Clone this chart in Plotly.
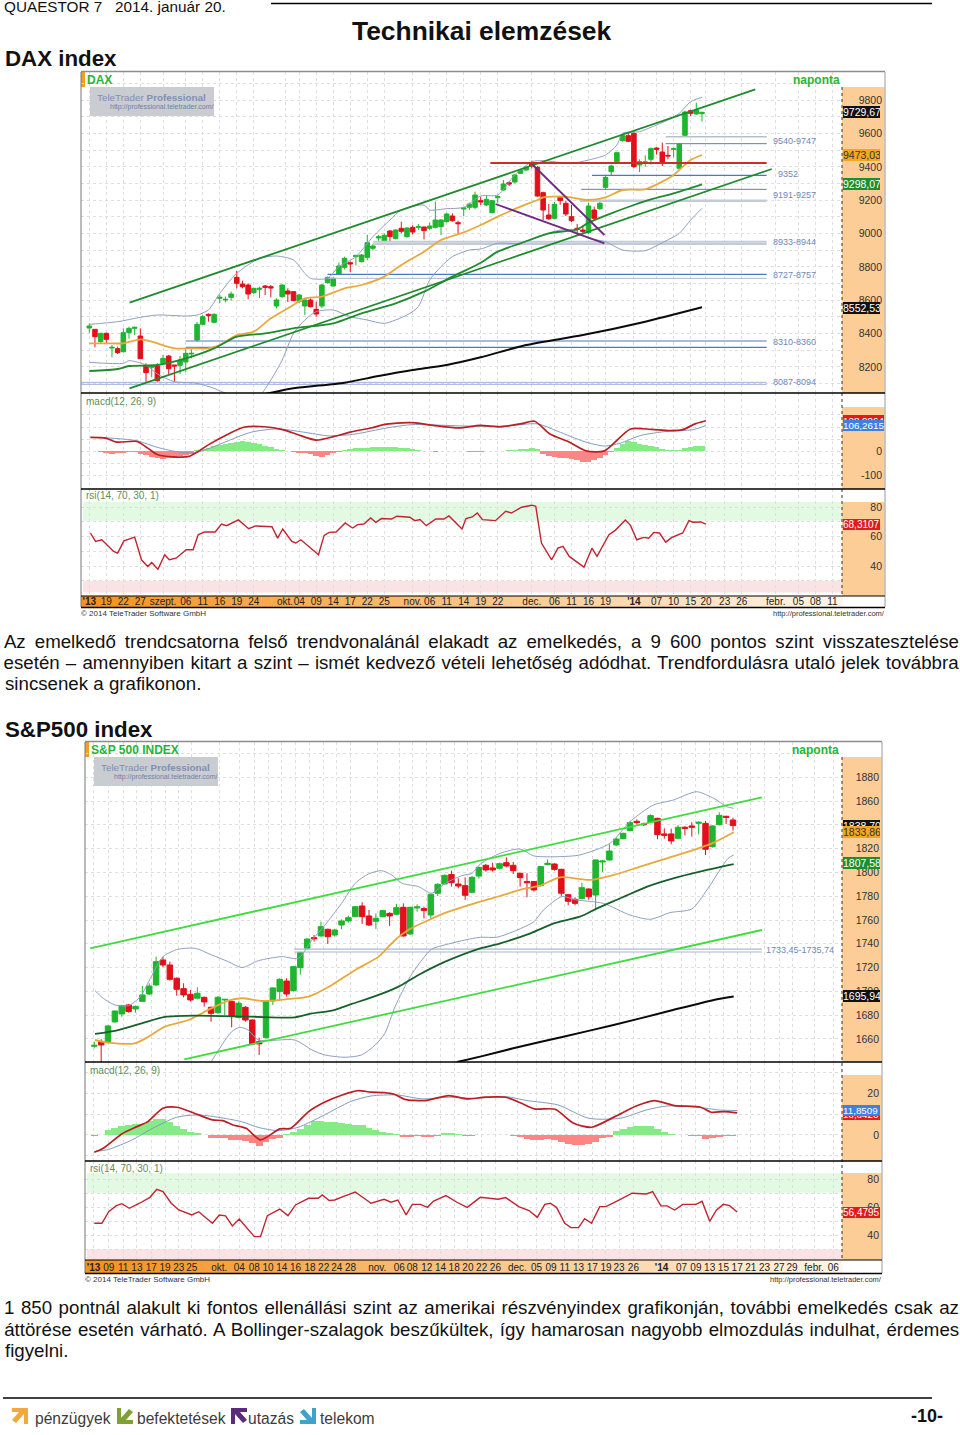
import json
import plotly.graph_objects as go

W, H = 960, 1435

# ---------- DAX data ----------
DAX_OPEN = [8433,8425,8351,8401,8313,8309,8291,8405,8431,8385,8205,8197,8205,8221,8265,8211,8209,8229,8277,8361,8455,8515,8467,8611,8601,8617,8737,8697,8691,8645,8665,8685,8681,8565,8621,8655,8651,8593,8565,8601,8545,8565,8705,8685,8757,8797,8825,8861,8831,8857,8911,8973,8953,9015,8969,9031,8981,9037,9037,9039,9031,9037,9041,9071,9105,9065,9147,9157,9157,9197,9171,9125,9215,9261,9305,9309,9361,9381,9421,9397,9245,9111,9091,9217,9181,9101,9031,9021,9005,9141,9149,9277,9371,9431,9557,9587,9601,9411,9425,9445,9513,9489,9469,9505,9391,9589,9737,9717,9719]
DAX_HIGH = [8461,8425,8405,8405,8331,8321,8431,8441,8441,8431,8221,8211,8221,8271,8271,8211,8265,8305,8305,8469,8511,8521,8521,8631,8621,8651,8775,8717,8701,8675,8681,8691,8691,8611,8695,8671,8655,8637,8611,8611,8591,8697,8741,8737,8825,8861,8833,8871,8877,8991,8937,8991,9001,9021,9025,9071,9037,9049,9057,9041,9065,9191,9085,9125,9121,9077,9157,9185,9251,9221,9231,9201,9229,9321,9313,9357,9389,9405,9437,9405,9251,9177,9189,9225,9197,9171,9057,9049,9185,9161,9191,9345,9413,9491,9593,9601,9613,9445,9469,9517,9517,9545,9525,9517,9541,9737,9743,9785,9731]
DAX_LOW = [8405,8317,8345,8337,8257,8277,8285,8369,8391,8249,8105,8137,8111,8217,8157,8105,8157,8171,8251,8351,8451,8471,8461,8581,8587,8597,8671,8671,8605,8637,8613,8631,8617,8551,8615,8589,8597,8581,8511,8557,8501,8551,8701,8681,8753,8785,8769,8809,8827,8841,8897,8949,8947,8949,8965,9001,8975,8995,9021,8965,9021,9031,8991,9065,9071,8991,9105,9141,9145,9171,9165,9121,9181,9257,9285,9301,9357,9377,9391,9221,9081,9081,9085,9173,9105,9069,8985,8997,8997,9081,9141,9261,9349,9425,9551,9549,9393,9369,9401,9413,9473,9405,9445,9457,9385,9581,9705,9713,9671]
DAX_CLOSE = [8445,8381,8401,8365,8317,8285,8405,8431,8437,8249,8165,8205,8117,8251,8189,8205,8241,8281,8281,8455,8501,8507,8515,8617,8605,8637,8701,8681,8637,8671,8671,8677,8673,8601,8691,8637,8597,8631,8601,8561,8517,8691,8737,8731,8805,8851,8817,8869,8871,8945,8925,8981,8989,8981,9021,9013,9033,9009,9041,9017,9045,9081,9081,9117,9077,9059,9153,9177,9231,9189,9205,9197,9221,9297,9297,9351,9381,9397,9405,9225,9141,9089,9175,9197,9117,9077,9025,9013,9165,9091,9181,9337,9405,9485,9587,9553,9401,9431,9429,9509,9505,9421,9465,9509,9537,9729,9721,9741,9727]

DAX_UP_X = [0,5,9,12,17,19,21,23,26,30,33,36,38,39,42,44,47,50,53,55,59,60,63,66,69,72,75,78,80,85,88,91,93,94,97,99,102,104,106,108]
DAX_UP_Y = [8455,8471,8497,8511,8505,8511,8541,8641,8761,8851,8865,8841,8761,8731,8731,8801,8861,8981,9081,9141,9171,9141,9149,9157,9225,9231,9351,9431,9437,9421,9441,9471,9531,9601,9611,9637,9681,9721,9791,9817]
DAX_LO_X = [0,6,7,10,12,15,19,22,25,30,32,34,36,38,40,43,46,49,52,56,58,60,62,64,67,69,72,76,80,83,85,88,91,94,98,101,104,106,108]
DAX_LO_Y = [8227,8221,8237,8211,8157,8111,8101,8071,8031,8031,8121,8241,8401,8481,8531,8541,8501,8481,8461,8511,8561,8721,8801,8861,8901,8907,8941,8941,8991,9021,9021,8971,8951,8901,8897,8945,9001,9081,9151]
DAX_MA20_X = [0,3,6,9,11,15,18,21,23,26,29,32,35,38,41,45,48,52,55,59,62,66,69,72,76,79,80,84,88,91,94,98,101,103,106,108]
DAX_MA20_Y = [8341,8341,8341,8365,8351,8311,8311,8311,8331,8391,8411,8491,8551,8611,8621,8671,8691,8741,8811,8891,8961,9007,9051,9101,9161,9201,9217,9221,9201,9217,9261,9265,9311,9351,9441,9471]
DAX_MA50_X = [0,5,7,12,17,22,26,31,36,43,48,54,59,64,69,72,76,81,86,88,92,96,99,103,108]
DAX_MA50_Y = [8175,8187,8205,8211,8251,8311,8381,8401,8431,8461,8521,8581,8651,8741,8825,8891,8941,9001,9025,9065,9121,9171,9205,9241,9295]
DAX_MA200_X = [31,36,45,51,57,63,69,77,87,98,108]
DAX_MA200_Y = [8037,8071,8105,8145,8181,8211,8257,8331,8391,8471,8557]

DAX_TREND = [([7.1,117.4],[8585,9865],'#1f8a2e'), ([7.1,120.3],[8071,9387],'#1f8a2e'),
             ([70.7,119.4],[9423,9423],'#c8302c'), ([71.6,90.8],[9177,8941],'#6e2a80'),
             ([78.2,90.8],[9411,8991],'#6e2a80')]
DAX_LEVELS = [(-1.4,8107,'#9db2d8',1),(-1.4,8095,'#9db2d8',1),(17,8355,'#4a78c8',1.2),(17,8317,'#4a78c8',1.2),
              (42,8755,'#4a78c8',1.2),(42,8731,'#a9b6cc',1),(50,8951,'#c3cbd8',2),(50,8937,'#c3cbd8',2),
              (86.7,9265,'#5a7fb8',1),(86.5,9197,'#c3cbd8',2.5),(88.6,9349,'#4a78c8',1.2),(101.6,9581,'#b4bfce',1.5),(101.6,9539,'#5a7fb8',1)]
DAX_LEVEL_END = 119.4
DAX_LEVEL_TEXT = [('9540-9747',773,141),('9352',778,174),('9191-9257',773,195),('8933-8944',773,242),('8727-8757',773,275),('8310-8360',773,342),('8087-8094',773,382)]

DAX_MACD_X = [0.2,2.9,4.8,8.4,10.3,12.1,14.8,17.6,19,21.2,24,27.2,30.9,34.1,36.8,40,43.2,46,49.6,52.4,57,60.6,65.2,68.9,72.5,76.2,78.5,81.2,84.4,87.6,90.8,95.4,99.1,102.3,104.6,106.9,108.7]
DAX_MACD_Y = [57,54,37.5,40,12.5,-15,-24,-22,-4,29,65,99,101,89,68,46,61,79,96,112,118,107,96,107,101,114,124,71,40,1,1,92,90,85,89,114,126]
DAX_SIG_X = [0.2,3.8,8.4,12.1,15.8,18.5,21.2,24.9,28.6,33.2,37.7,42.3,46.9,52.4,57,62.5,68,73.4,79,82.6,87.2,90.8,93.6,97.2,101.8,106.4,108.7]
DAX_SIG_Y = [57,54,43,15,-4,-8,12,47,79,92,79,63,71,96,110,107,103,104,113,82,40,21,33,65,82,89,106]
DAX_HIST = [0,0,-4,-8,-10,-8,-6,-3,-3,-12,-18,-24,-30,-33,-29,-27,-22,-17,-10,3,8,14,20,25,30,35,38,40,38,33,28,22,17,10,5,0,-3,-6,-9,-13,-20,-24,-15,-7,-2,3,10,12,13,14,16,18,19,18,17,14,11,8,5,2,-1,-2,-1,-1,1,1,-1,-3,-4,-3,-1,0,0,2,3,5,8,10,11,10,-10,-20,-25,-28,-30,-33,-38,-44,-47,-38,-28,-18,-5,12,30,40,36,30,26,22,16,10,6,3,4,14,18,20,20]
DAX_RSI_X = [.2,1.1,2.2,4.3,5,6.1,8,9.2,10.3,11,12.1,13.3,14.1,15.3,17.1,18.3,19.2,20.3,22.2,23.3,24.2,26.3,28.1,29.3,32.2,33.2,34.1,35.7,36.4,37.3,40.4,41.4,42.3,43.5,45.1,46.4,47.3,48.4,49.6,50.5,51.5,53.3,54.2,56.5,57.4,58.3,59.4,61.1,62.5,63.4,65.7,66.4,67.5,68.4,69.3,71.6,73.4,74.4,76.2,78,78.7,79.7,81.5,82.6,83.5,84.6,87.2,88.6,89.5,91.6,92.7,94.5,95.4,96.5,97.7,98.6,99.5,100.5,101.6,102.7,104.6,105.7,106.4,107.8,108.7]
DAX_RSI_Y = [62.5,56.8,57.9,50,48.8,57.2,59.7,44.3,39.7,42.5,37.9,47.7,44.3,45.4,51.1,51.1,61.3,63.2,63.2,68.6,67.5,71.4,65.4,67.3,66.8,59,65.2,56.8,55.7,57.9,47.7,60.9,62.9,63.2,69.3,65.9,68.2,68.6,72.7,69.8,72.3,72,73.9,73.2,70.9,71.6,67.5,72,72,74.1,65.2,72.3,73.4,76.1,71.6,70.9,77.3,76.1,80,81.4,80.7,55.7,44.3,52.2,53.4,46.6,39.3,52.2,46.6,61.3,64.3,71.4,67.7,57.9,59.5,59,62.9,62.5,56.3,59.5,62.5,70.9,69.8,70,68.6]
DAX_TICKPOS = [0,3,6,9,13,17,20,23,26,29,34.5,37,40,43,46,49,52,57,60,63,66,69,72,78,82,85,88,91,96,100,103,106,108.7,112,115,121,125,128,131]
DAX_TICKTXT = ["<b>'13</b>",'19','22','27','szept.','06','11','16','19','24','okt.','04','09','14','17','22','25','nov.','06','11','14','19','22','dec.','06','11','16','19',"<b>'14</b>",'07','10','15','20','23','26','febr.','05','08','11']
DAX_PRICE_TICKS = [8200,8400,8600,8800,9000,9200,9400,9600,9800]
DAX_MACD_TICKS = [-100,0,100]
DAX_BOX_MAIN = [('9729,67',9729.67,'#111111','#ffffff'),('9473,03',9473.03,'#f5a623','#333333'),('9298,07',9298.07,'#1a8f2f','#ffffff'),('8552,53',8552.53,'#111111','#ffffff')]
DAX_BOX_MACD = [('128,0064',126,'#dd1c1c','#ffffff'),('106,2615',106.26,'#3f7fe0','#ffffff')]
DAX_BOX_RSI = [('68,3107',68.31,'#dd1c1c','#ffffff')]

# ---------- S&P data ----------
SP_OPEN = [1653.8,1657.7,1657.7,1674.3,1681,1688.6,1685.2,1691.6,1697.8,1705.4,1726.4,1722.2,1711,1702.3,1697.5,1694.2,1695,1686.6,1682.1,1692.8,1691.4,1678.2,1686.6,1675.9,1657.7,1661.1,1691.9,1699.8,1708.7,1700.6,1720,1736.2,1745.2,1746.6,1752.2,1747.4,1755.8,1759.2,1762.8,1771.8,1763.4,1758.9,1762.8,1765.6,1764.8,1770.7,1748.3,1770.1,1769.6,1764.2,1782.5,1790.3,1798.2,1790.3,1788.9,1783.3,1797,1806,1803.8,1803.5,1808.2,1806,1799.3,1792.3,1792.3,1788.9,1806.6,1807.1,1802.6,1781.3,1777.4,1778,1786.1,1781,1808.8,1810.5,1823.1,1828.4,1835.2,1843,1840.8,1842.4,1845.5,1832.4,1832.4,1828.7,1838,1839.1,1841.3,1841.3,1821.7,1840.2,1847.2,1844.1]
SP_HIGH = [1657.7,1659.7,1671.7,1683.8,1688.6,1689.4,1688,1704.5,1706.8,1729.2,1729.2,1725,1711.8,1706.8,1701.2,1703.4,1695.6,1687.2,1696.1,1693.3,1692.2,1691.4,1687.7,1676.5,1661.1,1691.9,1703.4,1711,1711,1721.4,1733.4,1744.6,1747.4,1758.6,1752.7,1752.7,1760.6,1763.7,1771.8,1774.9,1768.4,1765.6,1768.4,1766.5,1773.5,1774,1771.2,1773.2,1771.2,1782.5,1790.9,1798.2,1801.5,1795.1,1795.9,1797,1804.9,1807.1,1808.2,1808.2,1812.7,1808.8,1799.8,1799.3,1792.6,1805.4,1811,1807.7,1803.2,1781.9,1779.1,1791.4,1786.7,1811,1810.5,1823.7,1829.3,1833.5,1843.3,1844.7,1841.9,1848.9,1846.1,1837.1,1836.8,1839.9,1839.1,1842.2,1843,1843.3,1839.6,1850.6,1847.8,1846.1]
SP_LOW = [1652.1,1640.6,1656.3,1673.7,1678.7,1682.1,1682.1,1691.1,1697,1704.5,1720.2,1709,1696.4,1695,1691.4,1693.3,1687.2,1674.5,1681,1680.1,1669.8,1677.3,1674.5,1655.2,1646.5,1660.3,1688.6,1692.2,1695.6,1699.8,1714.1,1735.4,1741.8,1746,1739.9,1746,1752.2,1757.8,1762.3,1756.7,1755,1752.5,1762.3,1755,1764.2,1746,1747.4,1767,1761.4,1760,1780.2,1790,1788.1,1786.7,1776.9,1782.5,1794.8,1800.7,1800.7,1802.6,1804.3,1798.7,1788.1,1779.1,1783.9,1788.1,1806,1801.5,1780.2,1772.4,1772.4,1777.4,1776.9,1768.4,1800.4,1809.9,1822.3,1827.9,1834.6,1840.2,1839.1,1841.9,1827.9,1828.4,1823.7,1828.1,1831.2,1830.1,1832.1,1814.7,1820.9,1839.6,1840.8,1835.2]
SP_CLOSE = [1654.6,1654.9,1670.9,1683.5,1688,1683,1687.4,1697,1704.5,1725,1722.2,1710.1,1701.7,1697,1692.8,1698.4,1691.1,1681.5,1695,1693.3,1679.3,1690,1675.9,1655.8,1655.8,1691.4,1702.9,1710.1,1697.8,1720.8,1732.6,1744,1744.3,1754.4,1746,1751.6,1759.2,1762,1771.2,1762.8,1755.8,1761.4,1767.9,1763.4,1770.4,1746.6,1770.7,1771,1767.9,1781.6,1790,1797.6,1791.4,1788.6,1780.8,1795.9,1804.3,1802.1,1802.1,1807.4,1805.4,1801.5,1795.6,1791.4,1785.3,1804.9,1807.7,1802.6,1782.5,1775.7,1774,1787.2,1779.6,1810.5,1809.6,1818,1828.1,1832.9,1841.9,1841.9,1840.2,1847.8,1831.8,1831.2,1826.5,1838,1837.1,1838,1842.2,1819.5,1839.1,1848,1846.4,1839.4]

SP_UP_X = [0.1,1.3,3,5,6.7,8.3,10,12.2,14.7,17.1,19.5,21.5,23.9,27.3,29.7,31.7,33.6,36,38,39.9,41.8,43.3,44.8,47.2,49.1,51.1,53.5,55,56.2,59.1,62,64,67.8,70.7,75.1,78,81.4,84.3,87.7,90.2,92.1,93.1]
SP_UP_Y = [1700.6,1694.2,1688.6,1688,1695.6,1712.4,1729.2,1735.4,1736.2,1730.6,1725,1720,1725.8,1729.2,1727.8,1743.2,1755.8,1774,1790.9,1798.7,1801.5,1797.9,1790.9,1788.1,1782.5,1790.9,1797.3,1799.3,1807.1,1816.1,1819.7,1813.9,1813.3,1814.7,1824.5,1842.7,1856.7,1860.9,1867.9,1862.3,1855.3,1853.9]
SP_LO_X = [17,18.1,20,21.2,22.4,23.9,29.2,31.7,33.6,36.5,38.9,40.9,42.3,43.8,46,47.7,49.1,51.6,54,56.2,58.6,61,64,65.4,68.1,70.2,74.1,78,81,83.8,87,89.2,91.1,92.3,93.1]
SP_LO_Y = [1640.6,1650.7,1666.1,1669.8,1667.5,1659.1,1659.1,1650.7,1646.5,1644.6,1646.5,1654.9,1664.7,1687.2,1712.4,1726.4,1735.4,1739.9,1743.2,1745.5,1745.5,1750.2,1758.6,1768.4,1779.7,1776.9,1774,1764.2,1760.6,1766.2,1769.3,1785.3,1802.1,1811.9,1814.7]
SP_MA20_X = [0.1,2,5.9,7.9,10.3,13.7,16.6,19.5,21.5,24.4,27.8,31.2,34.6,38,41.4,43.8,45.7,48.7,51.6,56.2,59.1,62.5,64.9,67.8,72.2,75.6,79.5,83.4,87.3,90.2,93.1]
SP_MA20_Y = [1659.1,1656.9,1656.3,1661.9,1670.3,1675.9,1684.4,1692.2,1694.2,1691.9,1693.3,1695.6,1705.4,1718,1729.2,1743.2,1751.6,1760,1767,1775.5,1780.2,1786.1,1788.9,1795.9,1793.7,1797.9,1804.9,1811.9,1818.9,1825.1,1833.8]
SP_MA50_X = [0.1,3.5,6.9,10.3,14.7,22.9,29.2,31.7,34.6,37.5,41.4,44.3,47.2,51.1,56.2,59.1,63.5,66.9,70.7,73.2,76.6,80.5,84.3,88.2,93.1]
SP_MA50_Y = [1664.2,1667.5,1673.1,1678.5,1679.6,1678.7,1678.2,1681.5,1683.8,1689.4,1697,1704,1713.8,1725,1736.2,1740.4,1748.8,1757.2,1762.8,1769.8,1778.3,1788.1,1795.1,1800.7,1806.9]
SP_MA200_X = [52.8,56.2,61,68.3,75.6,83.4,90.2,93.1]
SP_MA200_Y = [1640.6,1645.1,1652.1,1661.9,1671.7,1683,1692.8,1695.6]
SP_TREND = [([-0.6,97.2],[1736.2,1863.2],'#3fdc3f'), ([13.1,97.2],[1642.9,1751.6],'#3fdc3f')]
SP_LEVELS = [(29.1,1735.6,'#aab8d0',1.2),(29.1,1733.1,'#aab8d0',1.2)]
SP_LEVEL_END = 97.2
SP_LEVEL_TEXT = [('1733,45-1735,74',766,950)]

SP_MACD_X = [0,1.3,4,6.2,7.8,10,12,14.2,17.2,18.7,20.2,22.1,24.2,27,28.6,31.2,33.5,36.1,38.4,40.3,42.2,43.7,45.2,48.2,51.6,54.3,56.9,59.9,62.2,64.1,67.1,69.8,72.4,75.8,78.9,81.5,84.5,88.3,89.8,91.7,93.6]
SP_MACD_Y = [-8.3,-6.4,0.5,4,6.4,12.8,13.3,10.9,7.2,6.9,4.8,3.2,-2.4,2.9,3.2,11.2,15.7,19.2,21.3,20.5,20.3,19.5,17.1,16.5,18.9,17.3,18.1,18.1,15.2,12.5,12.3,5.6,3.7,8.8,13.9,16.5,14.1,13.3,10.9,11.2,10.6]
SP_SIG_X = [0,2.1,5.5,8.5,12,15,18,21.4,24,26.7,29.7,33.5,37.3,40.3,44,47.8,51.6,55.4,59.9,63,67.5,72,76.6,80.4,83.4,87.9,90.9,93.6]
SP_SIG_Y = [-8,-6.9,-2.4,3.2,8.5,9.6,8.5,6.4,3.5,2.1,3.7,9.6,16,18.7,19.2,17.3,18.1,17.6,18.4,16.5,14.4,8,8,12,13.9,13.3,12,11.7]
SP_HIST = [-0.4,0,2.2,3.5,4.4,5,5.2,5.4,6.5,7.5,7.7,6,4.5,3,1.5,1,0,-1.5,-1.5,-1.5,-2.2,-2.6,-3,-4,-5.5,-3.5,-2,-1.5,0.5,1.2,3,5,6.5,6.8,6.4,6,5.6,5.2,5,5,3.5,2.5,1.5,1,0.5,-1,-0.8,-0.6,-0.8,-1,-0.4,0.8,1,0.5,-0.4,-0.4,0,0,0,0,0,-0.5,-1.2,-1.8,-2.5,-2.2,-1.8,-2.5,-3.5,-4.5,-5,-5,-4.5,-3.5,-1.5,-0.8,2,3,4,4.2,4.2,4.2,3,1.5,0.5,0,0,-0.5,-0.5,-1.8,-1.5,-1,-0.6,-0.6]
SP_RSI_X = [0,1.1,2.1,3.2,4,5.1,6.6,8.1,9.1,10,11.2,12.3,14.2,15.2,17.2,18.2,19.1,20.1,21.1,23.3,24.2,25.2,27,28.2,29.3,31.2,32.6,33.2,34.2,35,36.5,38,40.3,42.2,43.2,44.2,45.4,46.3,47.5,48.5,49.4,51.2,52.8,54.3,56.2,58.8,59.9,61.8,63.3,64.5,65.6,66.4,67.3,68.5,69.4,70.5,71.4,72.4,73.6,74.5,76.6,78.3,80.4,81.3,82.5,83.4,84.5,85.7,87.6,88.5,89.6,90.6,91.6,92.5,93.6]
SP_RSI_Y = [48.8,48.8,57,61.3,62.7,59.4,63,67.2,72.9,71.2,63,58.2,54.7,57,48.8,54.7,54,46.9,51.8,39.3,39.3,54.2,58.9,54.2,61.8,66.5,66.5,68.9,64.9,65.3,68.2,71,63,65.8,63.7,65.3,54.7,62.2,62.2,60.1,64.6,68.4,63.7,60.1,67.2,65.8,67,60.6,57.8,53,62.2,63,60.1,48.8,45.7,45.7,52.1,48.8,60.6,60.6,65.8,70.1,69.6,71.2,61.1,61.1,58.2,62.2,62.2,64.4,50.2,58.2,62.2,61.3,56.8]
SP_TICKPOS = [-0.1,2.1,4.2,6.2,8.3,10.3,12.3,14.2,18.2,21.1,23.3,25.3,27.3,29.3,31.4,33.4,35.3,37.3,41.2,44.4,46.3,48.4,50.4,52.4,54.4,56.4,58.4,61.6,64.4,66.5,68.5,70.5,72.5,74.5,76.4,78.5,82.6,85.5,87.6,89.6,91.6,93.6,95.6,97.6,99.7,101.6,104.8,107.6]
SP_TICKTXT = ["<b>'13</b>",'09','11','13','17','19','23','25','okt.','04','08','10','14','16','18','22','24','28','nov.','06','08','12','14','18','20','22','26','dec.','05','09','11','13','17','19','23','26',"<b>'14</b>",'07','09','13','15','17','21','23','27','29','febr.','06']
SP_PRICE_TICKS = [1660,1680,1700,1720,1740,1760,1780,1800,1820,1840,1860,1880]
SP_MACD_TICKS = [0,20]
SP_BOX_MAIN = [('1838,70',1838.9,'#111111','#ffffff'),('1833,86',1833.86,'#f5a623','#333333'),('1807,58',1807.58,'#1a8f2f','#ffffff'),('1695,94',1695.94,'#111111','#ffffff')]
SP_BOX_MACD = [('10,6420',10.0,'#dd1c1c','#ffffff'),('11,8509',11.85,'#3f7fe0','#ffffff')]
SP_BOX_RSI = [('56,4795',56.48,'#dd1c1c','#ffffff')]

RSI_TICKS = [40,60,80]
TEXT1 = ["Az emelkedő trendcsatorna felső trendvonalánál elakadt az emelkedés, a 9 600 pontos szint visszatesztelése",
         "esetén – amennyiben kitart a szint – ismét kedvező vételi lehetőség adódhat. Trendfordulásra utaló jelek továbbra",
         "sincsenek a grafikonon."]
TEXT2 = ["1 850 pontnál alakult ki fontos ellenállási szint az amerikai részvényindex grafikonján, további emelkedés csak az",
         "áttörése esetén várható. A Bollinger-szalagok beszűkültek, így hamarosan nagyobb elmozdulás indulhat, érdemes",
         "figyelni."]
BRAND = [('pénzügyek',35),('befektetések',137),('utazás',248),('telekom',320)]

# ---------- helpers ----------
FONT = 'Liberation Sans, Arial, sans-serif'
px = lambda x: x / W
py = lambda y: 1 - y / H
layout = dict(width=W, height=H, margin=dict(l=0, r=0, t=0, b=0, pad=0), paper_bgcolor='white', plot_bgcolor='rgba(0,0,0,0)',
              showlegend=False, bargap=0, boxgap=0.2, boxgroupgap=0, font=dict(family=FONT, color='#222222'), hovermode=False)
shapes, annos, traces = [], [], []
_n = [0]
GRID = '#dedede'


def pane(x0, x1, y0, y1, xr, yr, xtickv=None, ytickv=None, grid=True, yticktext=False, xticktext=None, xfs=10, xstand=0):
    _n[0] += 1
    n = _n[0]
    xn, yn = ('x', 'y') if n == 1 else (f'x{n}', f'y{n}')
    xk, yk = ('xaxis', 'yaxis') if n == 1 else (f'xaxis{n}', f'yaxis{n}')
    layout[xk] = dict(domain=[px(x0), px(x1)], range=xr, anchor=yn, showgrid=grid and xtickv is not None, gridcolor=GRID, griddash='dot', gridwidth=1,
                      zeroline=False, showline=False, ticks='', tickmode='array', tickvals=xtickv or [], showticklabels=bool(xticktext),
                      rangeslider=dict(visible=False), fixedrange=True, tickangle=0)
    if xticktext:
        layout[xk].update(ticktext=xticktext, tickfont=dict(size=xfs, color='#222222'), ticklen=0, ticklabelstandoff=xstand)
    layout[yk] = dict(domain=[py(y1), py(y0)], range=yr, anchor=xn, showgrid=grid and ytickv is not None, gridcolor=GRID, griddash='dot', gridwidth=1,
                      zeroline=False, showline=False, ticks='', tickmode='array', tickvals=ytickv or [], showticklabels=yticktext, fixedrange=True)
    if yticktext:
        layout[yk].update(side='right', ticklabelposition='inside', tickfont=dict(size=10.5, color='#333333'), ticktext=[str(v) for v in ytickv])
    return xn, yn


def line(xs, ys, xa, ya, color, width=1.0, smooth=False):
    ln = dict(color=color, width=width)
    if smooth:
        ln.update(shape='spline', smoothing=0.7)
    traces.append(go.Scatter(x=xs, y=ys, mode='lines', xaxis=xa, yaxis=ya, hoverinfo='skip', cliponaxis=True, line=ln))


def txt(s, x, y, size, color='#111111', bold=False, anchor='left', yref='paper', xref='paper', width=None, bg=None, family=None):
    a = dict(text=f'<b>{s}</b>' if bold else s, x=px(x), y=py(y) if yref == 'paper' else y, xref=xref, yref=yref, showarrow=False,
             xanchor=anchor, yanchor='middle', font=dict(size=size, color=color, family=family or FONT), borderpad=0, borderwidth=0)
    if width:
        a['width'] = width
        a['align'] = 'left'
    if bg:
        a['bgcolor'] = bg
    annos.append(a)


def rect(x0, y0, x1, y1, fill, layer='below'):
    shapes.append(dict(type='rect', xref='paper', yref='paper', x0=px(x0), x1=px(x1), y0=py(y0), y1=py(y1), fillcolor=fill, line=dict(width=0), layer=layer))


def hline(x0, x1, y, color='#000000', w=1.5, dash=None, layer='above'):
    shapes.append(dict(type='line', xref='paper', yref='paper', x0=px(x0), x1=px(x1), y0=py(y), y1=py(y), line=dict(color=color, width=w, dash=dash or 'solid'), layer=layer))


def vline(x, y0, y1, color='#888888', w=1, dash=None, layer='above'):
    shapes.append(dict(type='line', xref='paper', yref='paper', x0=px(x), x1=px(x), y0=py(y0), y1=py(y1), line=dict(color=color, width=w, dash=dash or 'solid'), layer=layer))


def lerp_hex(a, b, t):
    return '#%02x%02x%02x' % tuple(int(a[i] + (b[i] - a[i]) * t) for i in range(3))


def chart(cfg):
    c = cfg
    xl, xm, xr = c['xl'], c['xm'], c['xr']
    yt, ym, yr_, ys, yb = c['yt'], c['ym'], c['yr'], c['ys'], c['yb']
    xrange_ = c['xrange']
    for a, b in c['panels']:
        rect(xm, a, xr - 0.5, b, '#fccd96')
    steps = 76
    for k in range(steps):
        t = k / (steps - 1)
        rect(xl + (xm - xl) * k / steps, ys, xl + (xm - xl) * (k + 1) / steps + 0.5, yb, lerp_hex((244, 146, 30), (255, 245, 232), t))
    xa, ya = pane(xl, xm, yt, ym, xrange_, c['pr'], c['tickpos'], c['pgrid'])
    traces.append(go.Candlestick(x=list(range(len(c['o']))), open=c['o'], high=c['h'], low=c['l'], close=c['c'], xaxis=xa, yaxis=ya,
                                 whiskerwidth=0, hoverinfo='skip',
                                 increasing=dict(line=dict(color='#1fb52f', width=1), fillcolor='#1fb52f'),
                                 decreasing=dict(line=dict(color='#e2101c', width=1), fillcolor='#e2101c')))
    for lv in c['levels']:
        line([lv[0], c['lend']], [lv[1], lv[1]], xa, ya, lv[2], lv[3])
    line(c['upx'], c['upy'], xa, ya, '#8ea0c2', 1, True)
    line(c['lox'], c['loy'], xa, ya, '#8ea0c2', 1, True)
    line(c['m20x'], c['m20y'], xa, ya, '#e8a93c', 1.8, True)
    line(c['m50x'], c['m50y'], xa, ya, c['m50c'], 1.8, True)
    line(c['m200x'], c['m200y'], xa, ya, '#0a0a0a', 2, True)
    for tx, ty, col in c['trend']:
        line(tx, ty, xa, ya, col, 1.8)
    xa2, ya2 = pane(xl, xm, ym, yr_, xrange_, c['mr'], c['tickpos'], c['mgrid'])
    hist = c['hist']
    traces.append(go.Bar(x=list(range(len(hist))), y=hist, xaxis=xa2, yaxis=ya2, hoverinfo='skip', width=1,
                         marker=dict(color=['#86ea86' if v >= 0 else '#ff8585' for v in hist], line=dict(width=0))))
    line(c['sx'], c['sy'], xa2, ya2, '#7f9cc0', 1, True)
    line(c['mx'], c['my'], xa2, ya2, '#bb1f24', 1.7, True)
    xa3, ya3 = pane(xl, xm, yr_, ys, xrange_, c['rr'], c['tickpos'], [30, 40, 50, 60, 70, 80], xticktext=c['ticktxt'], xfs=c['xfs'], xstand=c['xstand'])
    shapes.append(dict(type='rect', xref='paper', yref=ya3, x0=px(xl + 2), x1=px(xm), y0=c['gband'][0], y1=c['gband'][1], fillcolor='#e2f9e2', line=dict(width=0), layer='below'))
    shapes.append(dict(type='rect', xref='paper', yref=ya3, x0=px(xl + 2), x1=px(xm), y0=c['pband'][0], y1=c['pband'][1], fillcolor='#fbe3e5', line=dict(width=0), layer='below'))
    line(c['rx'], c['ry'], xa3, ya3, '#c02430', 1.4)
    _, yp1 = pane(xm, xr, yt, ym, [0, 1], c['pr'], grid=False, ytickv=c['pticks'], yticktext=True)
    _, yp2 = pane(xm, xr, ym, yr_, [0, 1], c['mr'], grid=False, ytickv=c['mticks'], yticktext=True)
    _, yp3 = pane(xm, xr, yr_, ys, [0, 1], c['rr'], grid=False, ytickv=RSI_TICKS, yticktext=True)
    for boxes, yp, fs, bw in ((c['bmain'], yp1, 10.5, 37), (c['bmacd'], yp2, 9.8, c['bwm']), (c['brsi'], yp3, 10, 37)):
        for s, v, bg, fg in boxes:
            txt(s, xm + 0.5, v, fs, fg, anchor='left', yref=yp, width=bw, bg=bg)
    hline(xl, xr, yt - 0.5, '#8c8c8c', 1.5)
    vline(xl, yt, yb, '#777777', 1)
    vline(xr, yt, yb, '#9a9a9a', 1)
    vline(xm, yt + 15, ys, '#333333', 1, 'dot')
    hline(xl, xr, ym, '#000000', 1.5)
    hline(xl, xr, yr_, '#000000', 1.5)
    hline(xl, xr, ys, '#000000', 1.2)
    hline(xl, xr, yb + 0.5, '#000000', 1.5)
    rect(xl, yt, xl + 4, yt + 15, '#f2a024')
    txt(c['name'], xl + 6, yt + 8, 12, '#25b53a', True)
    txt('naponta', c['nap'], yt + 8, 12, '#25b53a', True, anchor='center')
    txt('macd(12, 26, 9)', xl + 5, ym + 8, 10, '#5d8f5d')
    txt('rsi(14, 70, 30, 1)', xl + 5, yr_ + 7, 10, '#5d8f5d')
    lx0, ly0 = c['logo']
    rect(lx0, ly0, lx0 + 124, ly0 + 29, '#c9ccd1', 'above')
    txt('TeleTrader <b>Professional</b>', lx0 + 7, ly0 + 10, 9.9, '#7f8fb5')
    txt('http://professional.teletrader.com/', lx0 + 20, ly0 + 20, 7, '#6d7fa8')
    txt('© 2014 TeleTrader Software GmbH', xl, yb + 6, 8, '#333333')
    txt('http://professional.teletrader.com/', xr, yb + 6, 7.5, '#333333', anchor='right')
    for s, x, y in c['ltext']:
        txt(s, x, y, 9, '#6f88ba')


DAX_CFG = dict(name='DAX', nap=816, xl=81, xm=842, xr=885, yt=72, ym=393, yr=489, ys=596, yb=607, xrange=[-1.46, 132.68],
               pr=[8043, 9969], mr=[-157, 241], rr=[19.7, 92.4], gband=[70.9, 83.6], pband=[22, 30],
               panels=[(87, 393), (407, 489), (502, 596)], o=DAX_OPEN, h=DAX_HIGH, l=DAX_LOW, c=DAX_CLOSE,
               tickpos=DAX_TICKPOS, ticktxt=DAX_TICKTXT, xfs=10, xstand=-2, pgrid=list(range(8100, 9901, 100)), mgrid=[-100, -50, 0, 50, 100, 150],
               pticks=DAX_PRICE_TICKS, mticks=DAX_MACD_TICKS, levels=DAX_LEVELS, lend=DAX_LEVEL_END, upx=DAX_UP_X, upy=DAX_UP_Y, lox=DAX_LO_X, loy=DAX_LO_Y,
               m20x=DAX_MA20_X, m20y=DAX_MA20_Y, m50x=DAX_MA50_X, m50y=DAX_MA50_Y, m50c='#1f8a2e', m200x=DAX_MA200_X, m200y=DAX_MA200_Y, trend=DAX_TREND,
               hist=DAX_HIST, mx=DAX_MACD_X, my=DAX_MACD_Y, sx=DAX_SIG_X, sy=DAX_SIG_Y, rx=DAX_RSI_X, ry=DAX_RSI_Y,
               bmain=DAX_BOX_MAIN, bmacd=DAX_BOX_MACD, brsi=DAX_BOX_RSI, bwm=41, logo=(90, 87), ltext=DAX_LEVEL_TEXT)
SP_CFG = dict(name='S&P 500 INDEX', nap=815, xl=85, xm=842, xr=882, yt=742, ym=1062, yr=1161, ys=1260, yb=1273, xrange=[-1.354, 108.87],
              pr=[1640.6, 1909.7], mr=[-12.5, 35], rr=[22.7, 93], gband=[70.5, 84.3], pband=[22.7, 30.3],
              panels=[(757, 1062), (1075, 1161), (1173, 1260)], o=SP_OPEN, h=SP_HIGH, l=SP_LOW, c=SP_CLOSE,
              tickpos=SP_TICKPOS, ticktxt=SP_TICKTXT, xfs=10, xstand=0, pgrid=list(range(1660, 1901, 20)), mgrid=[-10, 0, 10, 20, 30],
              pticks=SP_PRICE_TICKS, mticks=SP_MACD_TICKS, levels=SP_LEVELS, lend=SP_LEVEL_END, upx=SP_UP_X, upy=SP_UP_Y, lox=SP_LO_X, loy=SP_LO_Y,
              m20x=SP_MA20_X, m20y=SP_MA20_Y, m50x=SP_MA50_X, m50y=SP_MA50_Y, m50c='#17602a', m200x=SP_MA200_X, m200y=SP_MA200_Y, trend=SP_TREND,
              hist=SP_HIST, mx=SP_MACD_X, my=SP_MACD_Y, sx=SP_SIG_X, sy=SP_SIG_Y, rx=SP_RSI_X, ry=SP_RSI_Y,
              bmain=SP_BOX_MAIN, bmacd=SP_BOX_MACD, brsi=SP_BOX_RSI, bwm=37, logo=(94, 757), ltext=SP_LEVEL_TEXT)
chart(DAX_CFG)
chart(SP_CFG)

# ---------- page text ----------
txt('QUAESTOR 7&nbsp;&nbsp;&nbsp;2014. január 20.', 4, 6.5, 15.3, '#111111')
hline(271, 932, 3.5, '#000000', 1.5)
txt('Technikai elemzések', 481.5, 31, 26.4, '#111111', True, anchor='center')
txt('DAX index', 4.5, 59, 22.3, '#111111', True)
txt('S&P500 index', 4.5, 729, 22.3, '#111111', True)
for s, y in zip(TEXT1, (641, 662, 684)):
    txt(s, 481.5 if s != TEXT1[2] else 4.5, y, 18.7, '#111111', anchor='center' if s != TEXT1[2] else 'left')
for s, y in zip(TEXT2, (1307, 1329, 1350)):
    txt(s, 481.5 if s != TEXT2[2] else 4.5, y, 18.7, '#111111', anchor='center' if s != TEXT2[2] else 'left')
hline(3, 932, 1398, '#000000', 1.5)
txt('-10-', 911, 1416, 18, '#111111', True)
for s, x in BRAND:
    txt(s, x, 1418, 15.6, '#3c3c3c')


def arrow(cx, cy, sx, sy, color):
    """corner arrow glyph of the footer brand line, drawn in page pixels"""
    pts = [(0, 0), (16, 0), (16, 4), (9, 4), (16, 12), (12, 15), (4, 6), (4, 16), (0, 16)]
    d = 'M' + ' L'.join(f'{px(cx + sx * a):.5f},{py(cy + sy * b):.5f}' for a, b in pts) + ' Z'
    shapes.append(dict(type='path', xref='paper', yref='paper', path=d, fillcolor=color, line=dict(width=0), layer='above'))


arrow(28, 1408, -1, 1, '#f0a93a')
arrow(117, 1424, 1, -1, '#7fa032')
arrow(231, 1408, 1, 1, '#5b2a7c')
arrow(316, 1424, -1, -1, '#3fa2cc')

layout['shapes'] = shapes
layout['annotations'] = annos
fig = go.Figure(data=traces, layout=layout)

JUST = [TEXT1[0], TEXT1[1], TEXT2[0], TEXT2[1]]
post = """
document.documentElement.style.overflow='hidden';
document.body.style.margin='0';
var J=%s;
document.querySelectorAll('.annotation-text').forEach(function(t){
  if(J.indexOf(t.textContent)>=0){
    var n=t.textContent.split(' ').length-1;
    t.style.wordSpacing=((955-t.getComputedTextLength())/n)+'px';
  }
});
""" % json.dumps(JUST, ensure_ascii=False)
fig.write_html('out.html', include_plotlyjs=True, config={'staticPlot': True, 'displayModeBar': False}, post_script=post, default_width=W, default_height=H)
